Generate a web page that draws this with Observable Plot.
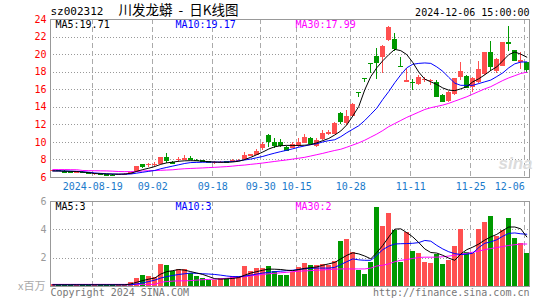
<!DOCTYPE html>
<html><head><meta charset="utf-8">
<script src="https://cdn.jsdelivr.net/npm/d3@7"></script>
<script src="https://cdn.jsdelivr.net/npm/@observablehq/plot@0.6"></script>
<style>
body{margin:0;background:#fff;}
#chart{position:relative;width:545px;height:300px;background:#fff;}
#chart svg{position:absolute;left:0;}
#chart text{white-space:pre;}
</style></head><body><div id="chart"></div>
<script>
const dates = [
"2024-08-08","2024-08-09","2024-08-12","2024-08-13","2024-08-14","2024-08-15","2024-08-16","2024-08-19","2024-08-20","2024-08-21",
"2024-08-22","2024-08-23","2024-08-26","2024-08-27","2024-08-28","2024-08-29","2024-08-30","2024-09-02","2024-09-03","2024-09-04",
"2024-09-05","2024-09-06","2024-09-09","2024-09-10","2024-09-11","2024-09-12","2024-09-13","2024-09-18","2024-09-19","2024-09-20",
"2024-09-23","2024-09-24","2024-09-25","2024-09-26","2024-09-27","2024-09-30","2024-10-08","2024-10-09","2024-10-10","2024-10-11",
"2024-10-14","2024-10-15","2024-10-16","2024-10-17","2024-10-18","2024-10-21","2024-10-22","2024-10-23","2024-10-24","2024-10-25",
"2024-10-28","2024-10-29","2024-10-30","2024-10-31","2024-11-01","2024-11-04","2024-11-05","2024-11-06","2024-11-07","2024-11-08",
"2024-11-11","2024-11-12","2024-11-13","2024-11-14","2024-11-15","2024-11-18","2024-11-19","2024-11-20","2024-11-21","2024-11-22",
"2024-11-25","2024-11-26","2024-11-27","2024-11-28","2024-11-29","2024-12-02","2024-12-03","2024-12-04","2024-12-05","2024-12-06"];
const open = [
6.75,6.78,6.70,6.65,6.60,6.62,6.55,6.32,6.40,6.32,
6.28,6.22,6.30,6.38,6.65,7.48,7.38,7.42,7.52,8.28,
7.72,7.92,7.92,8.18,7.98,7.90,7.80,7.60,7.62,7.80,
7.78,7.85,8.00,8.40,8.50,9.25,10.80,9.95,10.00,9.45,
9.30,9.50,9.90,10.50,9.50,10.30,10.85,10.90,13.25,12.15,
13.00,15.74,17.31,19.03,19.75,19.70,21.60,21.70,18.64,16.85,
16.85,16.65,17.05,16.95,16.80,15.35,14.70,15.45,17.35,17.55,
16.30,16.80,17.70,20.20,18.10,18.70,21.40,20.45,19.05,19.05];
const high = [
6.85,6.80,6.75,6.68,6.65,6.65,6.58,6.50,6.42,6.35,
6.30,6.35,6.40,6.55,7.30,7.52,7.62,7.72,8.30,8.72,
7.85,8.30,8.50,8.42,8.02,7.95,7.85,7.80,7.85,7.85,
8.00,8.05,8.85,8.65,9.20,9.95,10.85,10.40,10.35,9.50,
9.95,10.40,10.85,10.55,10.45,11.30,11.40,12.30,13.45,13.65,
14.40,15.74,17.31,19.03,20.65,21.00,23.20,22.40,19.70,18.40,
17.15,17.60,17.40,17.20,17.10,15.40,15.75,17.30,19.05,17.60,
17.40,19.25,20.25,21.50,19.60,21.40,23.15,20.50,20.20,19.10];
const low = [
6.70,6.70,6.55,6.55,6.55,6.50,6.45,6.28,6.25,6.20,
6.15,6.18,6.25,6.35,6.62,7.05,7.12,7.15,7.50,7.65,
7.50,7.75,7.88,7.92,7.82,7.72,7.65,7.50,7.60,7.65,
7.72,7.80,7.95,8.35,8.45,9.05,9.45,9.35,9.40,8.95,
9.25,9.45,9.85,9.80,9.40,10.25,10.75,10.85,12.05,11.95,
12.90,15.10,16.80,17.85,17.15,17.90,21.50,20.40,18.63,16.80,
15.90,16.50,16.80,16.50,15.20,14.60,14.60,15.30,17.10,16.10,
15.65,16.70,17.60,18.10,17.90,18.60,20.40,19.30,18.30,17.90];
const close = [
6.82,6.75,6.62,6.60,6.62,6.55,6.50,6.48,6.30,6.25,
6.22,6.32,6.35,6.52,7.25,7.28,7.45,7.50,8.28,7.95,
7.62,8.00,8.12,8.05,7.88,7.78,7.72,7.68,7.75,7.72,
7.88,7.95,8.45,8.60,9.00,9.75,10.10,9.70,9.65,9.10,
9.75,10.00,10.60,9.85,10.25,11.00,11.10,12.20,12.40,13.00,
14.30,15.73,17.30,19.02,19.10,20.95,23.05,20.70,18.63,17.05,
16.80,17.40,17.15,17.05,15.25,14.70,15.70,17.25,18.10,16.20,
17.30,18.30,20.20,18.70,19.45,21.35,21.25,19.35,19.35,18.30];
const volume = [
0.15,0.12,0.13,0.10,0.10,0.12,0.10,0.15,0.12,0.10,
0.12,0.12,0.15,0.28,0.57,0.76,0.69,0.62,1.55,1.48,
1.07,1.17,1.20,0.93,0.69,0.60,0.45,0.45,0.60,0.60,
0.74,0.74,1.40,1.05,1.26,1.26,1.40,1.05,0.76,0.76,
1.02,1.36,1.64,1.48,1.48,1.57,1.48,1.79,3.21,3.31,
2.43,1.12,0.84,1.71,5.57,4.21,5.12,3.98,1.71,3.79,
2.48,2.36,1.71,1.64,2.26,1.55,1.83,2.83,4.05,2.43,
2.31,4.05,4.55,4.93,3.55,3.93,4.83,3.36,3.02,2.36];
const ma5 = [
6.75,6.74,6.72,6.70,6.68,6.62,6.55,6.45,6.42,6.40,
6.38,6.38,6.40,6.48,6.70,6.90,7.06,7.25,7.50,7.67,
7.75,7.85,7.90,7.92,7.90,7.86,7.80,7.76,7.74,7.74,
7.77,7.85,8.05,8.30,8.60,8.90,9.25,9.50,9.62,9.66,
9.65,9.65,9.68,9.75,9.95,10.20,10.45,10.85,11.30,12.00,
13.00,14.10,16.00,17.50,18.50,19.30,20.00,20.60,20.45,20.00,
19.10,18.00,17.20,16.90,16.60,16.20,15.95,15.90,16.10,16.35,
16.90,17.25,17.70,18.20,18.60,19.30,20.00,20.30,20.05,19.71];
const ma10 = [
6.75,6.75,6.74,6.72,6.70,6.65,6.60,6.52,6.47,6.43,
6.40,6.38,6.38,6.40,6.50,6.60,6.70,6.80,7.00,7.15,
7.30,7.45,7.60,7.70,7.72,7.74,7.75,7.76,7.76,7.78,
7.82,7.90,8.00,8.10,8.25,8.40,8.60,8.78,8.95,9.10,
9.27,9.45,9.60,9.75,9.85,10.05,10.20,10.30,10.65,11.10,
11.50,11.90,12.50,13.20,13.90,14.90,15.80,16.80,17.70,18.50,
18.90,19.00,19.05,19.00,18.60,18.10,17.40,16.75,16.50,16.50,
16.50,16.70,16.90,17.10,17.50,17.92,18.50,18.95,19.15,19.17];
const ma30 = [
6.90,6.90,6.90,6.89,6.88,6.80,6.78,6.77,6.76,6.75,
6.72,6.68,6.67,6.67,6.68,6.74,6.78,6.79,6.82,6.85,
6.88,6.95,7.00,7.03,7.06,7.09,7.13,7.16,7.20,7.24,
7.30,7.37,7.42,7.50,7.57,7.65,7.74,7.83,7.92,8.00,
8.10,8.20,8.30,8.45,8.60,8.75,8.92,9.08,9.22,9.45,
9.70,9.95,10.25,10.60,10.95,11.35,11.80,12.15,12.50,12.85,
13.15,13.45,13.75,13.95,14.10,14.25,14.45,14.70,14.95,15.20,
15.50,15.80,16.10,16.35,16.70,17.05,17.35,17.60,17.85,17.99];
const vma5 = [
0.12,0.12,0.12,0.12,0.12,0.12,0.12,0.12,0.12,0.12,
0.12,0.12,0.12,0.18,0.30,0.42,0.52,0.60,0.88,1.05,
1.12,1.20,1.15,1.05,0.95,0.85,0.70,0.55,0.52,0.54,
0.57,0.63,0.80,0.95,1.05,1.15,1.23,1.22,1.20,1.15,
1.12,1.20,1.28,1.33,1.38,1.50,1.60,1.70,1.95,2.20,
2.38,2.30,2.15,1.95,2.40,2.90,3.50,4.05,4.07,3.80,
3.50,3.10,2.65,2.40,2.36,2.20,2.00,1.85,2.30,2.60,
2.78,3.00,3.28,3.50,3.68,3.95,4.20,4.20,4.07,3.50];
const vma10 = [
0.12,0.12,0.12,0.12,0.12,0.12,0.12,0.12,0.12,0.12,
0.12,0.12,0.12,0.12,0.18,0.26,0.35,0.45,0.60,0.70,
0.78,0.85,0.90,0.95,0.93,0.90,0.88,0.85,0.80,0.74,
0.70,0.70,0.74,0.80,0.88,0.95,1.00,1.05,1.08,1.12,
1.15,1.20,1.25,1.28,1.30,1.30,1.30,1.35,1.55,1.75,
1.95,1.88,1.85,1.85,2.20,2.60,2.85,3.00,3.02,3.03,
3.05,3.10,3.25,3.20,2.90,2.65,2.45,2.32,2.26,2.28,
2.35,2.75,3.05,3.15,3.30,3.55,3.75,3.78,3.72,3.69];
const vma30 = [
0.15,0.15,0.15,0.15,0.15,0.15,0.15,0.15,0.15,0.15,
0.15,0.15,0.15,0.15,0.15,0.15,0.15,0.15,0.30,0.35,
0.38,0.40,0.40,0.42,0.45,0.48,0.50,0.52,0.55,0.58,
0.62,0.66,0.70,0.75,0.80,0.85,0.90,0.93,0.97,1.00,
1.05,1.08,1.10,1.12,1.15,1.17,1.20,1.22,1.24,1.24,
1.24,1.24,1.24,1.30,1.45,1.50,1.60,1.75,1.85,1.90,
1.98,2.05,2.07,2.07,2.07,2.10,2.15,2.20,2.28,2.35,
2.42,2.50,2.60,2.68,2.75,2.82,2.90,2.95,3.00,3.00];
const tickDates = ["2024-08-19","2024-09-02","2024-09-18","2024-09-30","2024-10-15","2024-10-28","2024-11-11","2024-11-25","2024-12-06"];
const tickLabels = ["2024-08-19","09-02","09-18","09-30","10-15","10-28","11-11","11-25","12-06"];
const priceTicks = [6,8,10,12,14,16,18,20,22,24];
const volTicks = [2,4,6];
const volLegend = [3,3,2];
const stockCode = "sz002312";
const titleText = "川发龙蟒  -  日K线图";
const stamp = "2024-12-06 15:00:00";

const RED = "#ff5050", GREEN = "#009900", BLUE = "#1a7acb";
const MONO = "DejaVu Sans Mono";
const rows = dates.map((d,k)=>({k, d, o:open[k], h:high[k], l:low[k], c:close[k], v:volume[k],
  m5:ma5[k], m10:ma10[k], m30:ma30[k], vm5:vma5[k], vm10:vma10[k], vm30:vma30[k]}));
const col = r => r.c >= r.o ? RED : GREEN;
const ticks = tickDates.map((d,j)=>({x: dates.indexOf(d) - 1/3, label: tickLabels[j]}));
const xDomain = [-0.383, 79.45];
const hw = 0.42;
const last = rows.length - 1;

const topPlot = Plot.plot({
  width:545, height:195, marginLeft:50, marginRight:16, marginTop:19, marginBottom:18,
  style:{fontFamily:MONO, fontSize:"10px", background:"transparent", overflow:"visible"},
  x:{domain:xDomain, axis:null},
  y:{domain:[6,24], axis:null},
  marks:[
    Plot.ruleY(priceTicks.slice(1,-1), {stroke:"#999", strokeDasharray:"1,2", shapeRendering:"crispEdges"}),
    Plot.ruleX(ticks, {x:"x", stroke:"#aaa", strokeDasharray:"5,3", shapeRendering:"crispEdges"}),
    Plot.frame({stroke:"#999", shapeRendering:"crispEdges"}),
    Plot.axisY({ticks:priceTicks, tickFormat:"d", tickSize:0, tickPadding:4, fill:"#ff0000", label:null, fontSize:10}),
    Plot.text(ticks.slice(0,-1), {x:"x", text:"label", frameAnchor:"bottom", dy:9, lineAnchor:"middle", fill:BLUE}),
    Plot.text(ticks.slice(-1), {x:"x", text:"label", frameAnchor:"bottom", dy:9, lineAnchor:"middle", textAnchor:"end", fill:BLUE}),
    Plot.text(["sina"], {text:d=>d, frameAnchor:"bottom-right", dx:-14, dy:-14, textAnchor:"middle", lineAnchor:"middle", fill:"#dcdcdc", fontSize:17, fontWeight:"bold", fontStyle:"italic", fontFamily:"Liberation Sans"}),
    Plot.ruleX(rows, {x:"k", y1:"l", y2:"h", stroke:col, shapeRendering:"crispEdges"}),
    Plot.rect(rows, {x1:r=>r.k-hw, x2:r=>r.k+hw, y1:"o", y2:"c", fill:col, shapeRendering:"crispEdges"}),
    Plot.ruleY(rows, {y:"c", x1:r=>r.k-hw, x2:r=>r.k+hw, stroke:col, shapeRendering:"crispEdges"}),
    Plot.line(rows, {x:"k", y:"m30", stroke:"#ff00ff", strokeWidth:1}),
    Plot.line(rows, {x:"k", y:"m10", stroke:"#0000ff", strokeWidth:1}),
    Plot.line(rows, {x:"k", y:"m5", stroke:"#000", strokeWidth:1}),
    Plot.text([stockCode], {text:d=>d, frameAnchor:"top-left", dy:-8, textAnchor:"start", lineAnchor:"middle", fill:"#000", fontSize:11}),
    Plot.text([titleText], {text:d=>d, frameAnchor:"top-left", dx:68, dy:-9, textAnchor:"start", lineAnchor:"middle", fill:"#000", fontSize:13.5, fontFamily:"Noto Sans CJK SC"}),
    Plot.text([stamp], {text:d=>d, frameAnchor:"top-right", dy:-7, textAnchor:"end", lineAnchor:"middle", fill:"#000"}),
    Plot.text(["MA5:" + ma5[last].toFixed(2)], {text:d=>d, frameAnchor:"top-left", dx:5, dy:5, textAnchor:"start", lineAnchor:"middle", fill:"#000"}),
    Plot.text(["MA10:" + ma10[last].toFixed(2)], {text:d=>d, frameAnchor:"top-left", dx:125, dy:5, textAnchor:"start", lineAnchor:"middle", fill:"#0000ff"}),
    Plot.text(["MA30:" + ma30[last].toFixed(2)], {text:d=>d, frameAnchor:"top-left", dx:245, dy:5, textAnchor:"start", lineAnchor:"middle", fill:"#ff00ff"})
  ]
});

const botPlot = Plot.plot({
  width:545, height:105, marginLeft:50, marginRight:16, marginTop:6, marginBottom:14,
  style:{fontFamily:MONO, fontSize:"10px", background:"transparent", overflow:"visible"},
  x:{domain:xDomain, axis:null},
  y:{domain:[0,6], axis:null},
  marks:[
    Plot.ruleY(volTicks.slice(0,-1), {stroke:"#999", strokeDasharray:"1,2", shapeRendering:"crispEdges"}),
    Plot.ruleX(ticks, {x:"x", stroke:"#aaa", strokeDasharray:"5,3", shapeRendering:"crispEdges"}),
    Plot.rect(rows, {x1:r=>r.k-hw, x2:r=>r.k+hw, y1:0, y2:"v", fill:col, shapeRendering:"crispEdges"}),
    Plot.line(rows, {x:"k", y:"vm30", stroke:"#ff00ff", strokeWidth:1}),
    Plot.line(rows, {x:"k", y:"vm10", stroke:"#0000ff", strokeWidth:1}),
    Plot.line(rows, {x:"k", y:"vm5", stroke:"#000", strokeWidth:1}),
    Plot.frame({stroke:"#999", shapeRendering:"crispEdges"}),
    Plot.axisY({ticks:volTicks, tickFormat:"d", tickSize:0, tickPadding:4, fill:"#999", label:null, fontSize:10}),
    Plot.text(["x百万"], {text:d=>d, frameAnchor:"bottom-left", dx:-5, dy:0, textAnchor:"end", lineAnchor:"middle", fill:"#aaa", fontSize:11, fontFamily:"Noto Sans CJK SC"}),
    Plot.text(["Copyright 2024 SINA.COM"], {text:d=>d, frameAnchor:"bottom-left", dy:6, textAnchor:"start", lineAnchor:"middle", fill:"#777"}),
    Plot.text(["http://finance.sina.com.cn"], {text:d=>d, frameAnchor:"bottom-right", dy:6, textAnchor:"end", lineAnchor:"middle", fill:"#777"}),
    Plot.text(["MA5:" + volLegend[0]], {text:d=>d, frameAnchor:"top-left", dx:5, dy:5, textAnchor:"start", lineAnchor:"middle", fill:"#000"}),
    Plot.text(["MA10:" + volLegend[1]], {text:d=>d, frameAnchor:"top-left", dx:125, dy:5, textAnchor:"start", lineAnchor:"middle", fill:"#0000ff"}),
    Plot.text(["MA30:" + volLegend[2]], {text:d=>d, frameAnchor:"top-left", dx:245, dy:5, textAnchor:"start", lineAnchor:"middle", fill:"#ff00ff"})
  ]
});

const root = document.getElementById("chart");
topPlot.style.top = "0px";
botPlot.style.top = "195px";
root.appendChild(topPlot);
root.appendChild(botPlot);
</script></body></html>
